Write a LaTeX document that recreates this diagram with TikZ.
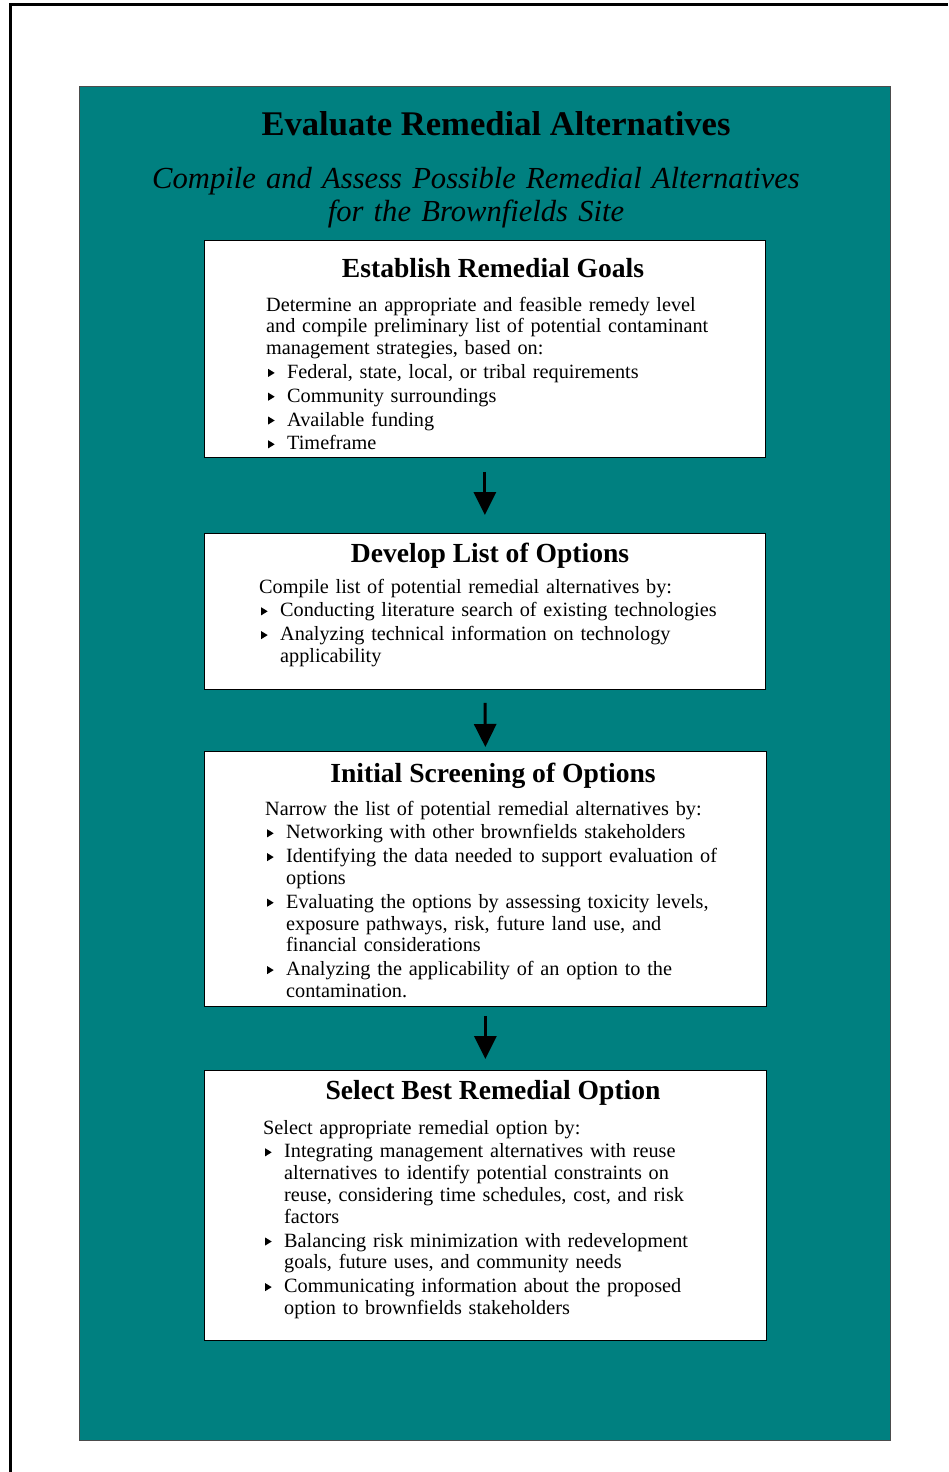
\documentclass[tikz,border=0pt]{standalone}
\usepackage{fontspec}
\setmainfont{Liberation Serif}
\usetikzlibrary{arrows.meta}
\definecolor{panelteal}{RGB}{0,128,128}
\newcommand{\bulmark}{\makebox[21pt][l]{\hspace{2pt}\tikz[baseline=0pt]\fill (0pt,1.5pt) -- (0pt,9.5pt) -- (6.5pt,5.5pt) -- cycle;}}
\newcommand{\contline}{\hspace*{21pt}}
\begin{document}
\begin{tikzpicture}[x=1pt, y=-1pt,
		panel/.style={draw=black!70, fill=panelteal, line width=1pt, inner sep=0pt, anchor=north west},
		box/.style={draw=black, fill=white, line width=0.8pt, inner sep=0pt, anchor=north west},
		heading/.style={anchor=base, inner sep=0pt, font=\fontsize{27.6}{32}\selectfont\bfseries},
		body/.style={anchor=base west, inner sep=0pt, text width=490pt, align=left, font=\fontsize{20.25}{21.8}\selectfont},
		flow/.style={-{Triangle[width=22pt,length=23pt]}, line width=3pt}]
		\useasboundingbox (0,0) rectangle (948,1472);
		\draw[line width=3pt] (948,4.5) -- (10.5,4.5) -- (10.5,1472);
		\node[panel, minimum width=811pt, minimum height=1354pt] (frame) at (79,86) {};
		% title lines
		\node[anchor=base, inner sep=0pt, font=\fontsize{34.6}{40}\selectfont\bfseries] (title) at (496,135) {Evaluate Remedial Alternatives};
		\node[anchor=base, inner sep=0pt, text width=760pt, align=center, font=\fontsize{30.6}{33}\selectfont\itshape] (subtitle) at (476,188) {Compile and Assess Possible Remedial Alternatives\\for the Brownfields Site};
		% the four steps
		\node[box, minimum width=561pt, minimum height=217pt] (goals) at (204,240) {};
		\node[box, minimum width=561pt, minimum height=156pt] (options) at (204,533) {};
		\node[box, minimum width=562pt, minimum height=255pt] (screening) at (204,751) {};
		\node[box, minimum width=562pt, minimum height=270pt] (select) at (204,1070) {};
		\node[heading] (goalshead) at (493,277) {Establish Remedial Goals};
		\node[body] (goalstext) at (266,311) {Determine an appropriate and feasible remedy level\\
			and compile preliminary list of potential contaminant\\
			management strategies, based on:\\[2pt]
			\bulmark Federal, state, local, or tribal requirements\\[2pt]
			\bulmark Community surroundings\\[2pt]
			\bulmark Available funding\\[2pt]
			\bulmark Timeframe};
		\node[heading] (optionshead) at (490,562) {Develop List of Options};
		\node[body] (optionstext) at (259,593) {Compile list of potential remedial alternatives by:\\[2pt]
			\bulmark Conducting literature search of existing technologies\\[2pt]
			\bulmark Analyzing technical information on technology\\
			\contline applicability};
		\node[heading] (screeninghead) at (493,782) {Initial Screening of Options};
		\node[body] (screeningtext) at (265,815) {Narrow the list of potential remedial alternatives by:\\[2pt]
			\bulmark Networking with other brownfields stakeholders\\[2pt]
			\bulmark Identifying the data needed to support evaluation of\\
			\contline options\\[2pt]
			\bulmark Evaluating the options by assessing toxicity levels,\\
			\contline exposure pathways, risk, future land use, and\\
			\contline financial considerations\\[2pt]
			\bulmark Analyzing the applicability of an option to the\\
			\contline contamination.};
		\node[heading] (selecthead) at (493,1099) {Select Best Remedial Option};
		\node[body] (selecttext) at (263,1134) {Select appropriate remedial option by:\\[2pt]
			\bulmark Integrating management alternatives with reuse\\
			\contline alternatives to identify potential constraints on\\
			\contline reuse, considering time schedules, cost, and risk\\
			\contline factors\\[2pt]
			\bulmark Balancing risk minimization with redevelopment\\
			\contline goals, future uses, and community needs\\[2pt]
			\bulmark Communicating information about the proposed\\
			\contline option to brownfields stakeholders};
		% arrows between steps
		\draw[flow, shorten <=14pt, shorten >=18pt] (goals.south) -- (options.north);
		\draw[flow, shorten <=13pt, shorten >=4pt] (options.south) -- (screening.north);
		\draw[flow, shorten <=9pt, shorten >=11pt] (screening.south) -- (select.north);
\end{tikzpicture}
\end{document}
